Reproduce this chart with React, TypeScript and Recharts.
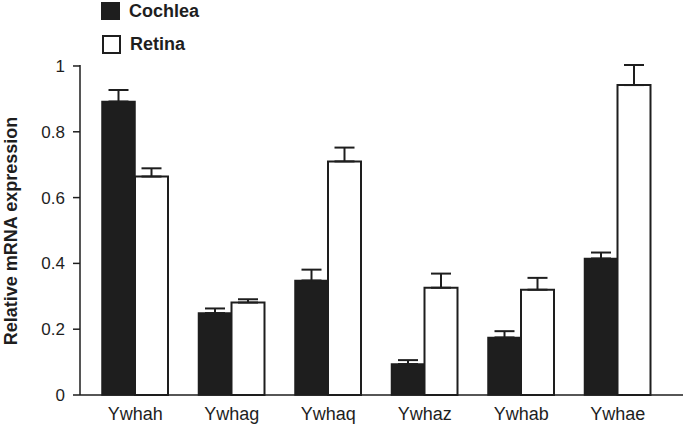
import { Bar, BarChart, ErrorBar, XAxis, YAxis } from 'recharts'

const genes = ['Ywhah', 'Ywhag', 'Ywhaq', 'Ywhaz', 'Ywhab', 'Ywhae']
const cochlea = [0.892, 0.249, 0.348, 0.094, 0.175, 0.415]
const cochleaErr = [0.035, 0.014, 0.033, 0.012, 0.019, 0.018]
const retina = [0.664, 0.281, 0.71, 0.326, 0.32, 0.942]
const retinaErr = [0.025, 0.01, 0.042, 0.043, 0.036, 0.061]
const yTicks = [0, 0.2, 0.4, 0.6, 0.8, 1]

const INK = '#1e1e1e'
const FONT = '"Liberation Sans", Arial, Helvetica, sans-serif'

export default function App() {
  // upper-only error bars: [below, above]
  const data = genes.map((g, i) => ({
    gene: g,
    cochlea: cochlea[i],
    cochleaErr: [0, cochleaErr[i]],
    retina: retina[i],
    retinaErr: [0, retinaErr[i]],
  }))

  return (
    <div style={{ position: 'fixed', left: 0, top: 0, width: 685, height: 426, background: '#fff', fontFamily: FONT }}>
      <BarChart
        width={685}
        height={426}
        data={data}
        margin={{ top: 65, right: 2, left: 0, bottom: 0 }}
        barGap={0}
        barSize={33}
      >
        <XAxis
          dataKey="gene"
          height={31}
          padding={{ left: 7, right: 17 }}
          tickLine={false}
          axisLine={{ stroke: INK, strokeWidth: 1.5 }}
          tick={{ fill: INK, fontSize: 18, fontFamily: FONT }}
          dy={4}
        />
        <YAxis
          width={80}
          domain={[0, 1]}
          ticks={yTicks}
          tickSize={7}
          tickMargin={8}
          tickLine={{ stroke: INK, strokeWidth: 1.5 }}
          axisLine={{ stroke: INK, strokeWidth: 1.5 }}
          tick={{ fill: INK, fontSize: 17, fontFamily: FONT }}
        />
        <Bar dataKey="cochlea" fill={INK} stroke={INK} strokeWidth={1.5} isAnimationActive={false}>
          <ErrorBar dataKey="cochleaErr" width={10} stroke={INK} strokeWidth={2} />
        </Bar>
        <Bar dataKey="retina" fill="#fff" stroke={INK} strokeWidth={2} isAnimationActive={false}>
          <ErrorBar dataKey="retinaErr" width={10} stroke={INK} strokeWidth={2} />
        </Bar>
      </BarChart>

      <div style={{ position: 'absolute', left: 101, top: 0, display: 'flex', alignItems: 'center', gap: 9 }}>
        <span style={{ display: 'inline-block', width: 19, height: 18, background: INK }} />
        <span style={{ fontSize: 18, fontWeight: 700, color: INK, lineHeight: '22px' }}>Cochlea</span>
      </div>
      <div style={{ position: 'absolute', left: 102, top: 33, display: 'flex', alignItems: 'center', gap: 9 }}>
        <span style={{ display: 'inline-block', width: 15, height: 15, border: `2px solid ${INK}`, background: '#fff' }} />
        <span style={{ fontSize: 18, fontWeight: 700, color: INK, lineHeight: '22px' }}>Retina</span>
      </div>

      <div
        style={{
          position: 'absolute',
          left: 11,
          top: 231,
          transform: 'translate(-50%, -50%) rotate(-90deg)',
          whiteSpace: 'nowrap',
          fontSize: 18,
          fontWeight: 700,
          color: INK,
        }}
      >
        Relative mRNA expression
      </div>
    </div>
  )
}
